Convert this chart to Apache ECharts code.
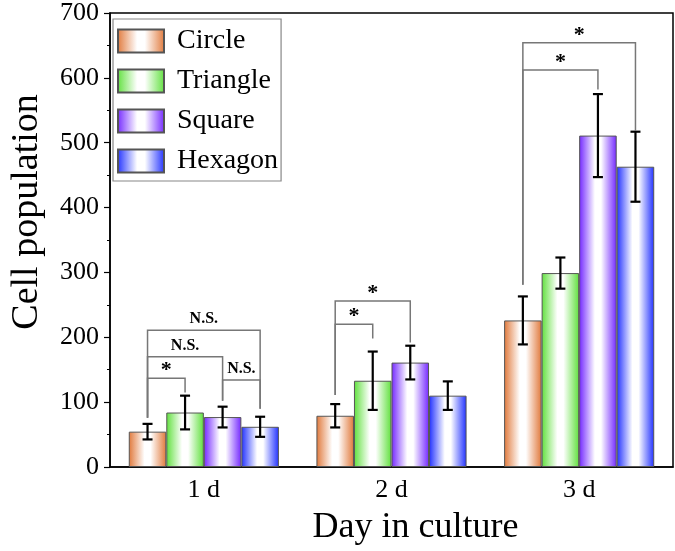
<!DOCTYPE html>
<html>
<head>
<meta charset="utf-8">
<script src="https://cdn.jsdelivr.net/npm/echarts@6/dist/echarts.min.js"></script>
<style>
  html, body { margin: 0; padding: 0; background: #fff; }
  #main { width: 675px; height: 551px; }
</style>
</head>
<body>
<div id="main"></div>
<script>
"use strict";
var FONT = 'Liberation Serif';

// ---------------- data ----------------
var days = ['1 d', '2 d', '3 d'];
var shapes = ['Circle', 'Triangle', 'Square', 'Hexagon'];
var circleVals   = [54.5, 79, 226];
var triangleVals = [84, 133, 299];
var squareVals   = [77, 161, 511];
var hexagonVals  = [62, 110, 463];
var circleErr   = [12, 18, 37];
var triangleErr = [26, 45, 24];
var squareErr   = [16, 26, 64];
var hexagonErr  = [15.5, 22, 54];
// brackets: [day index, left bar, right bar, top value, left leg end, right leg end]
var brackets = [
  [0, 0, 1, 137, 76, 115],
  [0, 0, 2, 170, 76, 102],
  [0, 0, 3, 211, 76, 90],
  [0, 2, 3, 134, 102, 90],
  [1, 0, 1, 220, 111, 198],
  [1, 0, 2, 256, 111, 192],
  [2, 0, 2, 612, 281, 582],
  [2, 0, 3, 654, 281, 518]
];
var bracketLabels = ['*', 'N.S.', 'N.S.', 'N.S.', '*', '*', '*', '*'];

var allVals = [circleVals, triangleVals, squareVals, hexagonVals];
var allErr = [circleErr, triangleErr, squareErr, hexagonErr];
var baseColors = ['#e0783a', '#5fe03c', '#7327ff', '#2030ff'];

function grad(c){
  return new echarts.graphic.LinearGradient(0, 0, 1, 0, [
    { offset: 0, color: c },
    { offset: 0.42, color: '#ffffff' },
    { offset: 0.58, color: '#ffffff' },
    { offset: 1, color: c }
  ]);
}

// ---------------- series ----------------
var series = shapes.map(function(name, i){
  return {
    name: name, type: 'bar', data: allVals[i],
    barGap: '0%', barCategoryGap: '20%',
    itemStyle: { color: grad(baseColors[i]), borderColor: '#555', borderWidth: 1 }
  };
});

// error bars
var errData = [];
allVals.forEach(function(vals, s){
  vals.forEach(function(v, d){ errData.push([d, s, v, allErr[s][d]]); });
});
series.push({
  type: 'custom', name: 'err', silent: true, z: 5,
  data: errData,
  renderItem: function(params, api){
    var d = api.value(0), s = api.value(1), v = api.value(2), e = api.value(3);
    var cx = api.coord([d, 0])[0];
    var bw = api.size([1, 0])[0] * 0.8 / 4;
    var x = cx + (s - 1.5) * bw;
    var yt = api.coord([d, v + e])[1], yb = api.coord([d, v - e])[1];
    var cap = 5;
    var st = { stroke: '#000', lineWidth: 2.2 };
    return { type: 'group', children: [
      { type: 'line', shape: { x1: x, y1: yt, x2: x, y2: yb }, style: st },
      { type: 'line', shape: { x1: x - cap, y1: yt, x2: x + cap, y2: yt }, style: st },
      { type: 'line', shape: { x1: x - cap, y1: yb, x2: x + cap, y2: yb }, style: st }
    ]};
  }
});

// significance brackets
series.push({
  type: 'custom', name: 'sig', silent: true, z: 6,
  data: brackets,
  renderItem: function(params, api){
    var d = api.value(0), l = api.value(1), r = api.value(2);
    var cx = api.coord([d, 0])[0];
    var bw = api.size([1, 0])[0] * 0.8 / 4;
    var x1 = cx + (l - 1.5) * bw, x2 = cx + (r - 1.5) * bw;
    var yTop = api.coord([d, api.value(3)])[1];
    var yl = api.coord([d, api.value(4)])[1], yr = api.coord([d, api.value(5)])[1];
    var lab = bracketLabels[params.dataIndex];
    return { type: 'group', children: [
      { type: 'polyline', shape: { points: [[x1, yl], [x1, yTop], [x2, yTop], [x2, yr]] },
        style: { stroke: '#777', lineWidth: 1.5, fill: null } },
      { type: 'text', x: (x1 + x2) / 2, y: lab === '*' ? yTop + 3 : yTop - 3,
        style: { text: lab, fill: '#000', align: 'center', verticalAlign: 'bottom',
          font: lab === '*' ? 'bold 22px ' + FONT : 'bold 16px ' + FONT } }
    ]};
  }
});

var option = {
  backgroundColor: '#fff',
  animation: false,
  textStyle: { fontFamily: FONT },
  grid: { left: 104, right: 2, top: 12, bottom: 82, show: true, borderColor: '#000', borderWidth: 1.5 },
  legend: {
    data: shapes, orient: 'vertical', left: 113, top: 19,
    padding: [8, 3, 6, 4], itemGap: 12, itemWidth: 46, itemHeight: 23,
    borderColor: '#888', borderWidth: 1.2, icon: 'rect',
    textStyle: { fontFamily: FONT, fontSize: 28, color: '#000', padding: [0, 0, 0, 8] }
  },
  xAxis: [{
    type: 'category', data: days,
    name: 'Day in culture', nameLocation: 'middle', nameGap: 43,
    nameTextStyle: { fontFamily: FONT, fontSize: 36, color: '#000', padding: [0, 0, 0, 48] },
    axisLine: { lineStyle: { color: '#000', width: 1.5 } },
    axisTick: { alignWithLabel: true, length: 5, lineStyle: { color: '#000', width: 1.2 } },
    axisLabel: { fontFamily: FONT, fontSize: 26, color: '#000', margin: 10 }
  }, {
    type: 'category', data: days, position: 'bottom',
    axisLine: { show: false },
    axisTick: { length: 3, lineStyle: { color: '#000', width: 1.2 } },
    axisLabel: { show: false }
  }],
  yAxis: {
    type: 'value', min: 0, max: 700, interval: 100,
    name: 'Cell population', nameLocation: 'middle', nameGap: 64,
    nameTextStyle: { fontFamily: FONT, fontSize: 38, color: '#000', padding: [0, 0, 0, 56] },
    axisLine: { show: true, lineStyle: { color: '#000', width: 1.5 } },
    axisTick: { show: true, length: 6, lineStyle: { color: '#000', width: 1.2 } },
    minorTick: { show: true, splitNumber: 2, length: 3, lineStyle: { color: '#000', width: 1 } },
    splitLine: { show: false },
    axisLabel: { fontFamily: FONT, fontSize: 26, color: '#000', margin: 11 }
  },
  series: series
};

var chart = echarts.init(document.getElementById('main'));
chart.setOption(option);
</script>
</body>
</html>
